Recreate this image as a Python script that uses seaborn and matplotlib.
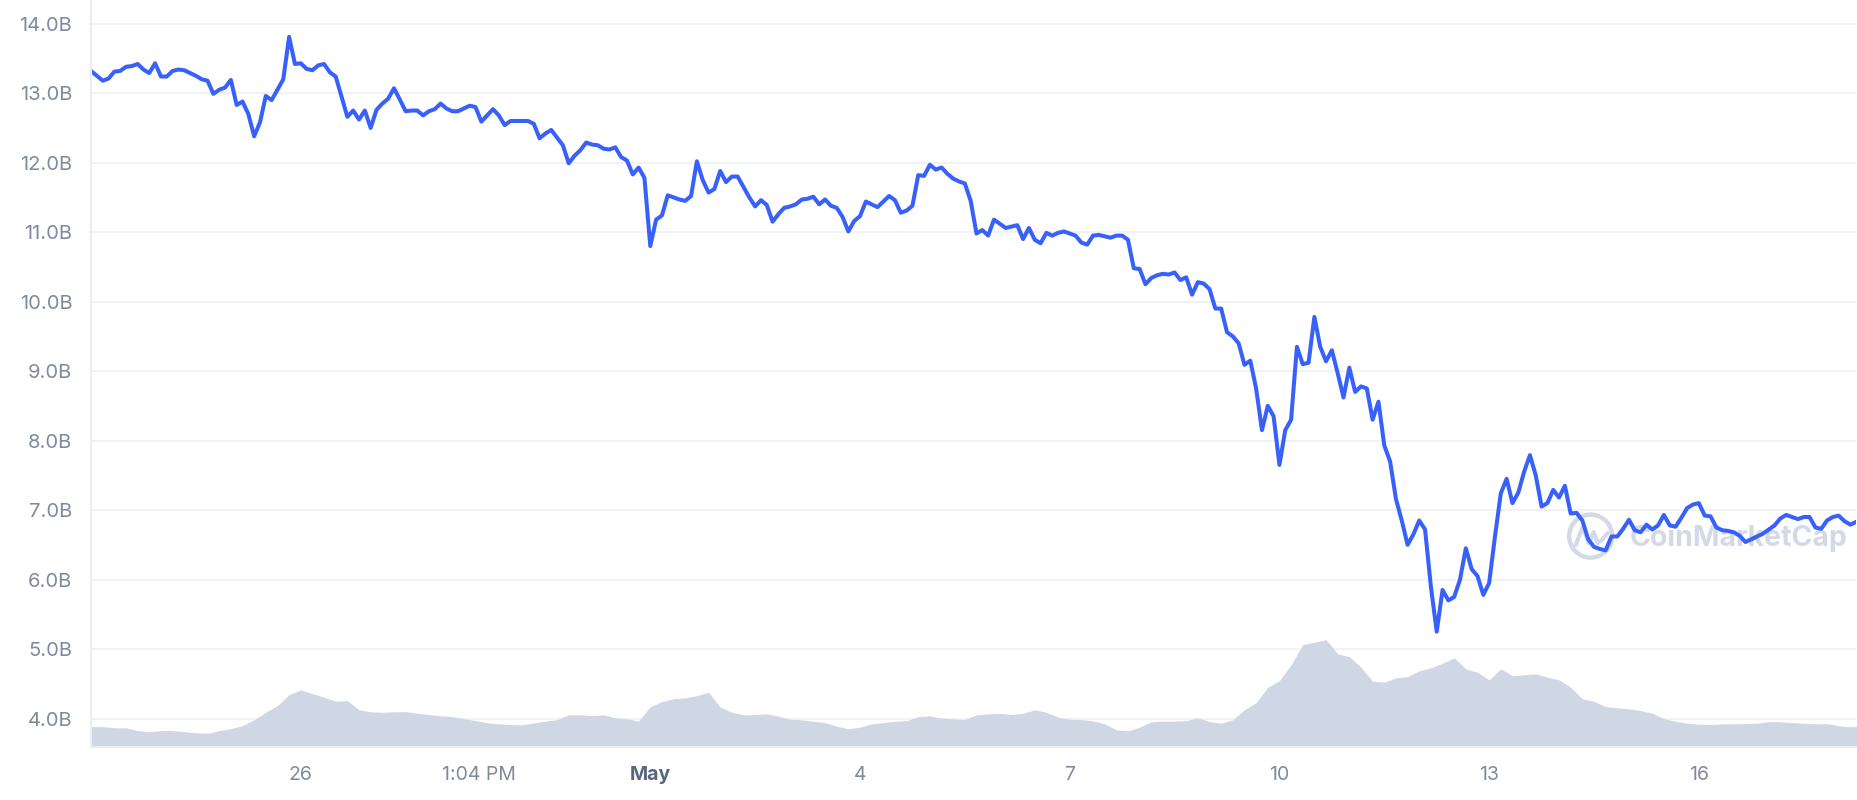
import pandas as pd
import matplotlib.pyplot as plt
import matplotlib.dates as mdates
from matplotlib.patches import Ellipse
import seaborn as sns

# price (market cap, billions), one value every 2 hours from Apr 23 00:00
price_b = [
    13.32, 13.25, 13.18, 13.21, 13.31, 13.32, 13.38, 13.39, 13.42, 13.34,
    13.29, 13.43, 13.24, 13.24, 13.32, 13.34, 13.33, 13.29, 13.25, 13.20,
    13.18, 12.99, 13.05, 13.08, 13.19, 12.83, 12.88, 12.70, 12.38, 12.58,
    12.96, 12.90, 13.05, 13.20, 13.81, 13.42, 13.43, 13.35, 13.33, 13.40,
    13.42, 13.30, 13.24, 12.95, 12.66, 12.75, 12.62, 12.75, 12.50, 12.76,
    12.85, 12.92, 13.07, 12.91, 12.74, 12.75, 12.75, 12.68, 12.74, 12.77,
    12.85, 12.78, 12.74, 12.74, 12.78, 12.82, 12.80, 12.59, 12.68, 12.77,
    12.68, 12.54, 12.60, 12.60, 12.60, 12.60, 12.56, 12.35, 12.42, 12.47,
    12.36, 12.25, 11.99, 12.10, 12.18, 12.29, 12.26, 12.25, 12.20, 12.19,
    12.22, 12.08, 12.03, 11.83, 11.93, 11.78, 10.80, 11.18, 11.24, 11.53,
    11.50, 11.47, 11.45, 11.52, 12.02, 11.75, 11.57, 11.62, 11.88, 11.72,
    11.80, 11.80, 11.65, 11.50, 11.37, 11.46, 11.39, 11.15, 11.26, 11.35,
    11.37, 11.40, 11.47, 11.48, 11.51, 11.40, 11.47, 11.38, 11.35, 11.22,
    11.01, 11.16, 11.23, 11.44, 11.40, 11.36, 11.44, 11.52, 11.46, 11.28,
    11.31, 11.38, 11.82, 11.81, 11.97, 11.90, 11.93, 11.84, 11.77, 11.73,
    11.70, 11.45, 10.98, 11.03, 10.95, 11.18, 11.12, 11.06, 11.08, 11.10,
    10.90, 11.06, 10.89, 10.84, 10.99, 10.95, 10.99, 11.01, 10.98, 10.95,
    10.85, 10.82, 10.95, 10.96, 10.94, 10.92, 10.95, 10.95, 10.89, 10.48,
    10.47, 10.25, 10.34, 10.38, 10.40, 10.39, 10.42, 10.31, 10.35, 10.10,
    10.28, 10.26, 10.18, 9.90, 9.90, 9.56, 9.50, 9.40, 9.09, 9.15,
    8.75, 8.15, 8.50, 8.35, 7.65, 8.15, 8.30, 9.35, 9.10, 9.12,
    9.78, 9.35, 9.14, 9.30, 8.97, 8.62, 9.05, 8.70, 8.78, 8.75,
    8.30, 8.56, 7.93, 7.70, 7.16, 6.85, 6.50, 6.65, 6.85, 6.72,
    5.90, 5.25, 5.85, 5.70, 5.75, 6.00, 6.45, 6.15, 6.05, 5.78,
    5.95, 6.62, 7.24, 7.45, 7.10, 7.25, 7.55, 7.79, 7.50, 7.05,
    7.10, 7.29, 7.18, 7.35, 6.95, 6.96, 6.85, 6.58, 6.47, 6.44,
    6.42, 6.62, 6.62, 6.73, 6.86, 6.71, 6.68, 6.79, 6.72, 6.78,
    6.93, 6.78, 6.76, 6.89, 7.03, 7.08, 7.10, 6.92, 6.91, 6.75,
    6.71, 6.70, 6.68, 6.63, 6.54, 6.58, 6.62, 6.66, 6.72, 6.78,
    6.88, 6.93, 6.90, 6.87, 6.90, 6.90, 6.75, 6.73, 6.85, 6.90,
    6.92, 6.84, 6.79, 6.83,
]

# volume (millions), one value every 4 hours from Apr 23 00:00
volume_m = [
    103, 103, 97, 97, 83, 77, 83, 83, 77, 72,
    70, 83, 93, 108, 138, 175, 208, 263, 287, 268,
    250, 230, 233, 187, 177, 175, 177, 178, 170, 163,
    157, 153, 143, 133, 122, 117, 113, 112, 122, 130,
    138, 162, 162, 158, 162, 147, 142, 130, 203, 228,
    243, 247, 258, 275, 200, 175, 162, 163, 167, 155,
    140, 137, 130, 123, 105, 92, 100, 117, 123, 130,
    133, 153, 157, 145, 142, 138, 162, 167, 170, 163,
    170, 187, 175, 150, 140, 138, 132, 117, 87, 82,
    100, 127, 130, 130, 133, 147, 128, 120, 137, 188,
    223, 300, 333, 412, 513, 525, 538, 467, 453, 400,
    330, 325, 347, 353, 383, 397, 420, 447, 392, 375,
    337, 392, 358, 362, 367, 350, 337, 300, 242, 230,
    203, 197, 192, 183, 170, 142, 130, 120, 115, 113,
    117, 117, 118, 120, 128, 127, 123, 120, 117, 118,
    107, 103, 103,
]

y_ticks = [4, 5, 6, 7, 8, 9, 10, 11, 12, 13, 14]
tick_times = ["2022-04-26 00:00", "2022-04-28 13:04", "2022-05-01 00:00", "2022-05-04 00:00",
              "2022-05-07 00:00", "2022-05-10 00:00", "2022-05-13 00:00", "2022-05-16 00:00"]
tick_labels = ["26", "1:04 PM", "May", "4", "7", "10", "13", "16"]

df = pd.DataFrame({"time": pd.date_range("2022-04-23", periods=len(price_b), freq="2h"),
                   "price": price_b})
df["t"] = mdates.date2num(df["time"])
vol = pd.DataFrame({"time": pd.date_range("2022-04-23", periods=len(volume_m), freq="4h"),
                    "volume": volume_m})
vol["t"] = mdates.date2num(vol["time"])

sns.set_style("white")
plt.rcParams["font.family"] = ["Inter", "DejaVu Sans"]

grey = "#808A9D"
fig = plt.figure(figsize=(18.58, 8), dpi=100)
ax = fig.add_axes([0.049, 0.066, 0.95, 0.934])

# bottom layer: grid, ticks and labels on the price scale
ax.set_ylim(3.587, 14.341)
ax.set_yticks(y_ticks)
ax.set_yticklabels([f"{v:.1f}B" for v in y_ticks])
ax.grid(axis="y", color="#EFF2F5", lw=1.3)
ax.grid(axis="x", visible=False)
for s in ax.spines.values():
    s.set_visible(False)
ax.tick_params(axis="y", length=0, pad=13.5, labelsize=14.5, labelcolor=grey)
ax.tick_params(axis="x", length=3.8, width=1.1, color=grey, pad=10, labelsize=14, labelcolor=grey)

# middle layer: volume area + watermark
vax = ax.twinx()
vax.fill_between(vol["t"], vol["volume"], color="#CFD6E4", lw=0)
vax.set_ylim(0, max(volume_m) * 6.95)
vax.axis("off")

cx, cy = 0.8496, 0.2825
vax.add_patch(Ellipse((cx, cy), 43 / 1765, 43 / 747, transform=vax.transAxes,
                      fill=False, ec="#CFD6E4", lw=3.2, alpha=0.9))
wave_dx = [-15, -8, -2, 3, 7, 12, 17]
wave_dy = [-9, 9, -7, 4, -7, -3, 3]
vax.plot([cx + d / 1765 for d in wave_dx], [cy + d / 747 for d in wave_dy],
         transform=vax.transAxes, color="#CFD6E4", lw=3, alpha=0.9,
         solid_joinstyle="round", solid_capstyle="round")
vax.text(0.8715, 0.2798, "CoinMarketCap", transform=vax.transAxes, ha="left", va="center",
         fontsize=20.5, fontweight="bold", color="#CFD6E4", alpha=0.9)

# top layer: price line
pax = ax.twinx()
sns.lineplot(data=df, x="t", y="price", ax=pax, color="#3861FB", lw=2.9)
pax.set_ylim(ax.get_ylim())
pax.set_yticks([])
pax.set_xlabel("")
pax.set_ylabel("")
for s in ["top", "right"]:
    pax.spines[s].set_visible(False)
for s in ["left", "bottom"]:
    pax.spines[s].set_color("#EAEDF1")
    pax.spines[s].set_linewidth(1.6)

ax.set_xlim(df["t"].iloc[0], df["t"].iloc[-1])
ax.set_xticks(mdates.date2num(pd.to_datetime(tick_times)))
ax.set_xticklabels(tick_labels)
may = ax.get_xticklabels()[2]
may.set_fontweight("bold")
may.set_color("#58667E")

fig.savefig("out.png", dpi=100)
